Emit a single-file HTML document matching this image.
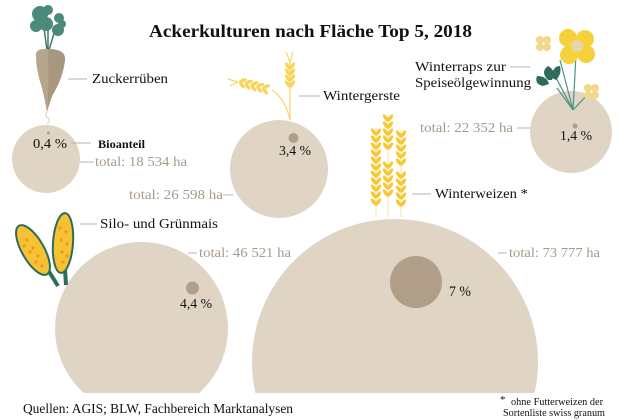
<!DOCTYPE html>
<html><head><meta charset="utf-8"><style>
html,body{margin:0;padding:0;background:#fff;width:620px;height:420px;overflow:hidden;}
svg{display:block;}
text{font-family:"Liberation Serif",serif;}
</style></head><body>
<svg width="620" height="420" viewBox="0 0 620 420" xmlns="http://www.w3.org/2000/svg">
<defs>
<clipPath id="c"><rect x="0" y="0" width="620" height="393"/></clipPath>
<g id="k"><ellipse cx="-2.3" cy="0" rx="1.8" ry="4.2" transform="rotate(-35 -2.3 0)"/><ellipse cx="2.3" cy="0" rx="1.8" ry="4.2" transform="rotate(35 2.3 0)"/></g>
<g id="kh"><ellipse cx="0" cy="-2.3" rx="4.2" ry="1.8" transform="rotate(-35 0 -2.3)"/><ellipse cx="0" cy="2.3" rx="4.2" ry="1.8" transform="rotate(35 0 2.3)"/></g>
</defs>
<rect width="620" height="420" fill="#fff"/>
<g clip-path="url(#c)">
<circle cx="46" cy="159" r="34" fill="#e0d5c5"/>
<circle cx="279" cy="169" r="49" fill="#e0d5c5"/>
<circle cx="571" cy="132" r="41" fill="#e0d5c5"/>
<circle cx="141.5" cy="328.5" r="86.5" fill="#e0d5c5"/>
<circle cx="395" cy="362" r="143" fill="#e0d5c5"/>
</g>
<circle cx="48.5" cy="133" r="1.5" fill="#b09e89"/>
<circle cx="293.5" cy="138" r="5" fill="#b09e89"/>
<circle cx="575" cy="126" r="2.5" fill="#b09e89"/>
<circle cx="192.5" cy="288" r="6.5" fill="#b09e89"/>
<circle cx="416" cy="282" r="26" fill="#b09e89"/>

<!-- beet -->
<g>
<path d="M47 50 L44 28 M48 50 L48 22 M49 50 L55 30" stroke="#3f7b6b" stroke-width="1.5" fill="none"/>
<circle cx="40" cy="14" r="8" fill="#4a8a7a"/><circle cx="46" cy="24" r="7" fill="#4a8a7a"/>
<circle cx="36" cy="26" r="6" fill="#4a8a7a"/><circle cx="48" cy="10" r="5" fill="#4a8a7a"/>
<circle cx="59" cy="18" r="5" fill="#4a8a7a"/><circle cx="58" cy="30" r="6" fill="#4a8a7a"/>
<circle cx="62" cy="24" r="4" fill="#4a8a7a"/>
<path d="M36 56 Q35 48 48 49 Q66 49 65 60 Q63 78 52 96 Q48 108 47 112 Q45 100 42 88 Q36 70 36 56Z" fill="#b7a68e"/>
<path d="M48 49 Q66 49 65 60 Q63 78 52 96 Q48 108 47 112 Q49 90 48 49Z" fill="#a8977f"/>
<path d="M47 112 Q44 116 48 118 Q51 121 47 124" stroke="#d8cfc2" stroke-width="1" fill="none"/>
</g>

<!-- barley -->
<g stroke="#f5d66c" fill="none" stroke-width="1.2">
<path d="M290 120 L290 62"/>
<path d="M290 120 Q286 100 272 90"/>
<path d="M290 62 L286 52 M290 62 L293 52"/>
<path d="M238 82 L228 79 M238 82 L230 86"/>
</g>
<g fill="#f7d45a">
<use href="#k" x="290" y="66"/><use href="#k" x="290" y="72"/><use href="#k" x="290" y="78"/><use href="#k" x="290" y="84"/>
<g transform="rotate(15 255 86)"><use href="#kh" x="242" y="86"/><use href="#kh" x="248" y="86"/><use href="#kh" x="254" y="86"/><use href="#kh" x="260" y="86"/><use href="#kh" x="266" y="86"/></g>
</g>

<!-- rapeseed -->
<g>
<path d="M573 110 L557 88 M573 110 L560 60 M573 110 L576 55 M573 110 L590 92 M573 110 L552 70" stroke="#4f9088" stroke-width="1.2" fill="none"/>
<path d="M548 80 Q540 72 548 66 Q556 70 552 80Z M543 86 Q534 84 537 76 Q547 76 549 84Z M552 78 Q552 66 560 66 Q562 74 556 80Z" fill="#2f6b5a"/>
<g fill="#f5d23c"><circle cx="568" cy="38" r="9"/><circle cx="585" cy="39" r="9"/><circle cx="569" cy="55" r="9"/><circle cx="586" cy="54" r="9"/></g>
<circle cx="577" cy="46" r="6" fill="#e7d6a8"/>
<g fill="#f2d98a"><circle cx="540" cy="40" r="4"/><circle cx="547" cy="40" r="4"/><circle cx="540" cy="47" r="4"/><circle cx="547" cy="47" r="4"/></g>
<g fill="#f2d98a"><circle cx="588" cy="88" r="4"/><circle cx="595" cy="88" r="4"/><circle cx="588" cy="95" r="4"/><circle cx="595" cy="95" r="4"/></g>
</g>

<!-- wheat -->
<g stroke="#f3e2a8" stroke-width="1" fill="none">
<path d="M376 128 L376 217 M388 115 L388 217 M401 130 L401 217"/>
</g>
<g fill="#f7c830">
<use href="#k" x="376" y="132"/><use href="#k" x="376" y="139"/><use href="#k" x="376" y="146"/><use href="#k" x="376" y="153"/><use href="#k" x="376" y="160"/><use href="#k" x="376" y="167"/><use href="#k" x="376" y="174"/><use href="#k" x="376" y="181"/><use href="#k" x="376" y="188"/><use href="#k" x="376" y="195"/><use href="#k" x="376" y="202"/>
<use href="#k" x="388" y="118"/><use href="#k" x="388" y="125"/><use href="#k" x="388" y="132"/><use href="#k" x="388" y="139"/><use href="#k" x="388" y="146"/><use href="#k" x="388" y="165"/><use href="#k" x="388" y="172"/><use href="#k" x="388" y="179"/><use href="#k" x="388" y="186"/><use href="#k" x="388" y="193"/>
<use href="#k" x="401" y="134"/><use href="#k" x="401" y="141"/><use href="#k" x="401" y="148"/><use href="#k" x="401" y="155"/><use href="#k" x="401" y="162"/><use href="#k" x="401" y="175"/><use href="#k" x="401" y="182"/><use href="#k" x="401" y="189"/><use href="#k" x="401" y="196"/><use href="#k" x="401" y="203"/>
</g>

<!-- corn -->
<g>
<path d="M48 270 L58 286" stroke="#2d6b5a" stroke-width="4"/>
<path d="M65 270 L66 285" stroke="#2d6b5a" stroke-width="4"/>
<ellipse cx="33" cy="250" rx="11" ry="28" transform="rotate(-30 33 250)" fill="#f6c232" stroke="#2d6b5a" stroke-width="2"/>
<ellipse cx="63" cy="243" rx="10" ry="30" transform="rotate(4 63 243)" fill="#f6c232" stroke="#2d6b5a" stroke-width="2"/>
<g fill="#ef8f2a">
<circle cx="27" cy="240" r="1.5"/><circle cx="33" cy="248" r="1.5"/><circle cx="38" cy="256" r="1.5"/><circle cx="30" cy="252" r="1.5"/><circle cx="36" cy="262" r="1.5"/><circle cx="24" cy="246" r="1.5"/><circle cx="42" cy="266" r="1.5"/>
<circle cx="60" cy="228" r="1.5"/><circle cx="66" cy="232" r="1.5"/><circle cx="61" cy="240" r="1.5"/><circle cx="67" cy="244" r="1.5"/><circle cx="62" cy="252" r="1.5"/><circle cx="67" cy="256" r="1.5"/><circle cx="63" cy="262" r="1.5"/>
</g>
</g>

<!-- leader lines -->
<g stroke="#b8b2a8" stroke-width="1">
<line x1="68" y1="79" x2="87" y2="79"/>
<line x1="71" y1="143" x2="91" y2="143"/>
<line x1="80" y1="162" x2="94" y2="162"/>
<line x1="223" y1="195" x2="233" y2="195"/>
<line x1="299" y1="96" x2="320" y2="96"/>
<line x1="510" y1="67" x2="530" y2="67"/>
<line x1="517" y1="128" x2="530" y2="128"/>
<line x1="412" y1="194" x2="431" y2="194"/>
<line x1="80" y1="224" x2="97" y2="224"/>
<line x1="188" y1="253" x2="197" y2="253"/>
<line x1="498" y1="253" x2="507" y2="253"/>
</g>

<text x="149" y="37" font-size="18" font-weight="bold" fill="#111" textLength="323" lengthAdjust="spacingAndGlyphs">Ackerkulturen nach Fläche Top 5, 2018</text>

<g font-size="14" fill="#111">
<text x="92" y="83" textLength="76" lengthAdjust="spacingAndGlyphs">Zuckerrüben</text>
<text x="33" y="148" textLength="34" lengthAdjust="spacingAndGlyphs">0,4 %</text>
<text x="323" y="100" textLength="77" lengthAdjust="spacingAndGlyphs">Wintergerste</text>
<text x="279" y="155" textLength="32" lengthAdjust="spacingAndGlyphs">3,4 %</text>
<text x="415" y="71" textLength="91" lengthAdjust="spacingAndGlyphs">Winterraps zur</text>
<text x="415" y="87" textLength="116" lengthAdjust="spacingAndGlyphs">Speiseölgewinnung</text>
<text x="560" y="140" textLength="32" lengthAdjust="spacingAndGlyphs">1,4 %</text>
<text x="435" y="198" textLength="93" lengthAdjust="spacingAndGlyphs">Winterweizen *</text>
<text x="100" y="228" textLength="118" lengthAdjust="spacingAndGlyphs">Silo- und Grünmais</text>
<text x="180" y="308" textLength="32" lengthAdjust="spacingAndGlyphs">4,4 %</text>
<text x="449" y="296" font-size="15" textLength="22" lengthAdjust="spacingAndGlyphs">7 %</text>
<text x="23" y="413" textLength="270" lengthAdjust="spacingAndGlyphs">Quellen: AGIS; BLW, Fachbereich Marktanalysen</text>
</g>
<text x="98" y="148" font-size="12" font-weight="bold" fill="#111" textLength="47" lengthAdjust="spacingAndGlyphs">Bioanteil</text>

<g font-size="14" fill="#a69a8b">
<text x="95" y="166" textLength="92" lengthAdjust="spacingAndGlyphs">total: 18 534 ha</text>
<text x="129" y="199" textLength="94" lengthAdjust="spacingAndGlyphs">total: 26 598 ha</text>
<text x="420" y="132" textLength="93" lengthAdjust="spacingAndGlyphs">total: 22 352 ha</text>
<text x="199" y="257" textLength="92" lengthAdjust="spacingAndGlyphs">total: 46 521 ha</text>
<text x="509" y="257" textLength="91" lengthAdjust="spacingAndGlyphs">total: 73 777 ha</text>
</g>

<g font-size="11" fill="#111">
<text x="500" y="403">*</text>
<text x="511" y="405" textLength="92" lengthAdjust="spacingAndGlyphs">ohne Futterweizen der</text>
<text x="503" y="416" textLength="102" lengthAdjust="spacingAndGlyphs">Sortenliste swiss granum</text>
</g>
</svg>
</body></html>
